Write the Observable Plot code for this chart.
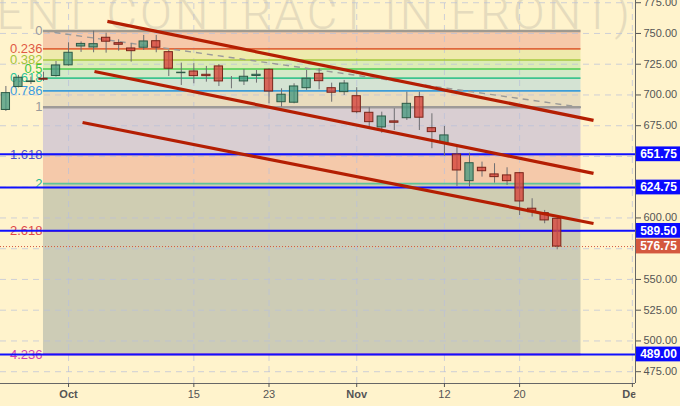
<!DOCTYPE html>
<html>
<head>
<meta charset="utf-8">
<script src="https://cdn.jsdelivr.net/npm/d3@7"></script>
<script src="https://cdn.jsdelivr.net/npm/@observablehq/plot@0.6"></script>
<style>
  html, body { margin: 0; padding: 0; background: #fff3cc; }
  #chart { width: 680px; height: 406px; overflow: hidden; }
</style>
</head>
<body>
<div id="chart"></div>
<script>
// ---- Data (trading-day index, 0 = Oct 1) ----
const idx   = [-5,-4,-3,-2,-1,0,1,2,3,4,5,6,7,8,9,10,11,12,13,14,15,16,17,18,19,20,21,22,23,24,25,26,27,28,29,30,31,32,33,34,35,36,37,38,39];
const opens = [687.8,706.5,710.5,713.2,715.4,724.1,739.4,738.6,746.5,742.1,737.8,738.4,743.7,734.8,717.7,719.1,716.4,723.2,712.0,711.0,715.4,720.5,694.1,693.7,705.5,717.2,705.5,702.3,699.0,685.5,673.6,678.5,681.1,698.2,673.0,660.8,651.6,629.9,640.8,635.4,634.6,636.4,607.5,603.9,599.3];
const highs = [706.9,715.9,714.5,718.5,727.2,742.4,743.1,751.9,750.2,744.9,741.6,748.4,748.4,736.2,725.9,725.4,723.2,724.8,715.0,720.7,719.9,721.3,705.0,709.1,719.9,721.3,709.6,711.8,705.9,689.6,686.0,688.8,702.3,702.3,684.7,674.4,657.6,652.7,645.4,644.1,640.8,637.0,615.6,606.1,599.5];
const lows  = [686.6,705.7,708.5,711.0,714.5,723.4,734.6,734.3,734.0,735.6,726.7,736.2,734.3,715.0,707.7,709.1,710.4,706.9,705.0,707.7,709.6,692.8,690.1,692.8,703.7,704.2,694.1,699.6,684.7,673.8,668.9,671.1,679.3,671.1,656.3,650.2,625.6,625.0,633.2,628.3,626.4,602.0,600.7,595.3,574.1];
const closes= [701.5,714.0,711.0,712.4,724.0,734.3,741.5,741.3,743.3,740.8,735.6,743.5,738.4,721.3,718.1,715.3,715.3,711.0,712.0,714.8,716.4,702.8,700.2,706.9,713.2,711.2,701.8,709.3,686.0,677.9,682.5,677.4,692.8,681.5,669.8,667.1,638.6,644.5,638.0,633.2,629.9,613.4,604.7,598.0,576.75];

const xTickIdx    = [0, 10, 16, 23, 30, 36, 45];
const xTickLabels = ["Oct", "15", "23", "Nov", "12", "20", "Dec"];
const yGrid       = [475, 500, 525, 550, 575, 600, 625, 650, 675, 700, 725, 750, 775];
const yTickLabels = [475, 500, 525, 550, 600, 675, 700, 725, 750, 775];

// Fibonacci retracement
const fibHigh   = 752.1;
const fibLow    = 690.0;
const fibStart  = -2;
const fibEnd    = 40.9;
const fibRatios = [0, 0.236, 0.382, 0.5, 0.618, 0.786, 1, 1.618, 2, 2.618, 4.236];
const fibLabels = ["0", "0.236", "0.382", "0.5", "0.618", "0.786", "1", "1.618", "2", "2.618", "4.236"];
const fibLineColors  = ["#a09a90", "#e0683e", "#a9c83c", "#4ccc4c", "#3cc48e", "#3c9cd8", "#9e9a98", "#5a5ad0", "#5cc49a", "#e04444", "#d040b0"];
const fibLabelColors = ["#9a9a9a", "#e05a44", "#a4c43a", "#3cc43c", "#2cc49a", "#3c9ce0", "#9a9a9a", "#5050c8", "#2cb890", "#e04848", "#d040b0"];
const fibBandColors  = ["#f6c9aa", "#eeeaac", "#ddecb6", "#d4e9c8", "#d4e3d3", "#e9dcbe", "#d9ced2", "#f5c9aa", "#cfcdb2", "#cdccb6"];

// Channel lines (x1, y1, x2, y2)
const chanX1 = [3.1, 2.07, 1.12];
const chanY1 = [759.8, 719.1, 677.6];
const chanX2 = [41.9, 41.9, 41.9];
const chanY2 = [679.3, 636.2, 595.5];

// Horizontal levels
const hLevels   = [651.75, 624.75, 589.50, 489.00];
const lastPrice = 576.75;
const watermark = "ENT CONTRACT IN FRONT)";

// ---- Build tables ----
const candles = idx.map((i, k) => ({i, o: opens[k], h: highs[k], l: lows[k], c: closes[k], up: closes[k] >= opens[k]}));
const fibLevel = r => fibHigh - r * (fibHigh - fibLow);
const fibs = fibRatios.map((r, k) => ({r, v: fibLevel(r), label: fibLabels[k], line: fibLineColors[k], lab: fibLabelColors[k]}));
const bands = fibRatios.slice(0, -1).map((r, k) => ({top: fibLevel(r), bottom: fibLevel(fibRatios[k + 1]), fill: fibBandColors[k]}));
const channels = chanX1.map((x, k) => ({x1: x, y1: chanY1[k], x2: chanX2[k], y2: chanY2[k]}));
const priceTags = hLevels.map(v => ({v, fill: "#0a0aff"})).concat([{v: lastPrice, fill: "#d4583e"}]);

const xDomain = [-5.43, 45.25];
const yDomain = [465.4, 776.8];
const tagRight = 48.9;

const chart = Plot.plot({
  width: 680,
  height: 406,
  marginLeft: 0,
  marginRight: 45,
  marginTop: 0,
  marginBottom: 23,
  style: {background: "#fff3cc", fontFamily: "'Liberation Sans', Arial, sans-serif"},
  x: {domain: xDomain, axis: null},
  y: {domain: yDomain, axis: null},
  color: {type: "identity"},
  marks: [
    // watermark
    Plot.text([watermark], {frameAnchor: "top-left", dx: -4, dy: 28, lineAnchor: "bottom", textAnchor: "start",
      fontSize: 47, fill: "#e5dbbd", fontWeight: 300, fontFamily: "Roboto, 'Liberation Sans', sans-serif"}),
    // fib bands
    Plot.rect(bands, {x1: fibStart, x2: fibEnd, y1: "bottom", y2: "top", fill: "fill"}),
    // grid
    Plot.ruleY(yGrid, {x1: xDomain[0], x2: xDomain[1], stroke: "#b9c0da", strokeOpacity: 0.7, strokeDasharray: "6,5"}),
    Plot.ruleX(xTickIdx, {y1: yDomain[0], y2: yDomain[1], stroke: "#b9c0da", strokeOpacity: 0.7, strokeDasharray: "6,5"}),
    // fib lines
    Plot.ruleY(fibs, {y: "v", x1: fibStart, x2: fibEnd, stroke: "line", strokeWidth: d => (d.r === 0 || d.r === 1) ? 2.5 : 1.6}),
    // fib diagonal
    Plot.link([0], {x1: fibStart, y1: fibHigh, x2: fibEnd, y2: fibLow, stroke: "#9a9a98", strokeWidth: 1.4, strokeDasharray: "6,5"}),
    // fib labels
    Plot.text(fibs, {x: fibStart, y: "v", text: "label", fill: "lab", textAnchor: "end", dx: -1, fontSize: 13}),
    // horizontal blue levels
    Plot.ruleY(hLevels, {x1: xDomain[0], x2: tagRight, stroke: "#1010ff", strokeWidth: 2}),
    // last price dotted
    Plot.ruleY([lastPrice], {x1: xDomain[0], x2: xDomain[1], stroke: "#d4583e", strokeWidth: 1, strokeDasharray: "1,2"}),
    // wicks
    Plot.ruleX(candles, {x: "i", y1: "l", y2: "h", stroke: "#6e6e72", strokeWidth: 1}),
    // bodies
    Plot.rect(candles, {x1: d => d.i - 0.33, x2: d => d.i + 0.33,
      y1: d => Math.min(d.o, d.c), y2: d => Math.max(d.o, d.c),
      fill: d => d.up ? "#489a80" : "#d6433a", fillOpacity: 0.78,
      stroke: d => d.up ? "#2c5a46" : "#7a2419", strokeWidth: 1}),
    // channel lines
    Plot.link(channels, {x1: "x1", y1: "y1", x2: "x2", y2: "y2", stroke: "#b41e02", strokeWidth: 3.2}),
    // axes lines
    Plot.ruleX([xDomain[1]], {y1: yDomain[0], y2: yDomain[1], stroke: "#666", strokeWidth: 1}),
    Plot.ruleY([yDomain[0]], {x1: xDomain[0], x2: xDomain[1], stroke: "#666", strokeWidth: 1}),
    Plot.axisY(yGrid, {anchor: "right", tickFormat: d => yTickLabels.includes(d) ? d3.format(".2f")(d) : "", tickSize: 5, tickPadding: 3, fontSize: 11, color: "#555"}),
    Plot.axisX(xTickIdx, {anchor: "bottom", tickFormat: d => xTickLabels[xTickIdx.indexOf(d)], tickSize: 4, tickPadding: 3, fontSize: 11, color: "#555"}),
    // price tags
    Plot.rect(priceTags, {x1: xDomain[1] + 0.07, x2: tagRight, y1: d => d.v - 6.0, y2: d => d.v + 6.0, fill: "fill"}),
    Plot.text(priceTags, {x: xDomain[1], dx: 23, y: "v", text: d => d3.format(".2f")(d.v), fill: "white", fontWeight: "bold", fontSize: 12})
  ]
});

// post: bold month labels, clip x tick labels at the price axis, widen watermark
const svg = chart.tagName.toLowerCase() === "svg" ? chart : chart.querySelector("svg");
const ns = "http://www.w3.org/2000/svg";
const defs = document.createElementNS(ns, "defs");
const cp = document.createElementNS(ns, "clipPath");
cp.setAttribute("id", "xclip");
const cr = document.createElementNS(ns, "rect");
cr.setAttribute("x", 0); cr.setAttribute("y", 0); cr.setAttribute("width", 635); cr.setAttribute("height", 406);
cp.appendChild(cr); defs.appendChild(cp); svg.insertBefore(defs, svg.firstChild);
svg.querySelectorAll('g[aria-label="x-axis tick label"]').forEach(g => {
  g.setAttribute("clip-path", "url(#xclip)");
  g.querySelectorAll("text").forEach(t => {
    if (t.textContent === "Oct" || t.textContent === "Nov" || t.textContent === "Dec") t.setAttribute("font-weight", "bold");
  });
});
svg.querySelectorAll("text").forEach(t => {
  if (t.textContent === watermark) t.setAttribute("letter-spacing", "3");
});
document.getElementById("chart").appendChild(chart);
</script>
</body>
</html>
